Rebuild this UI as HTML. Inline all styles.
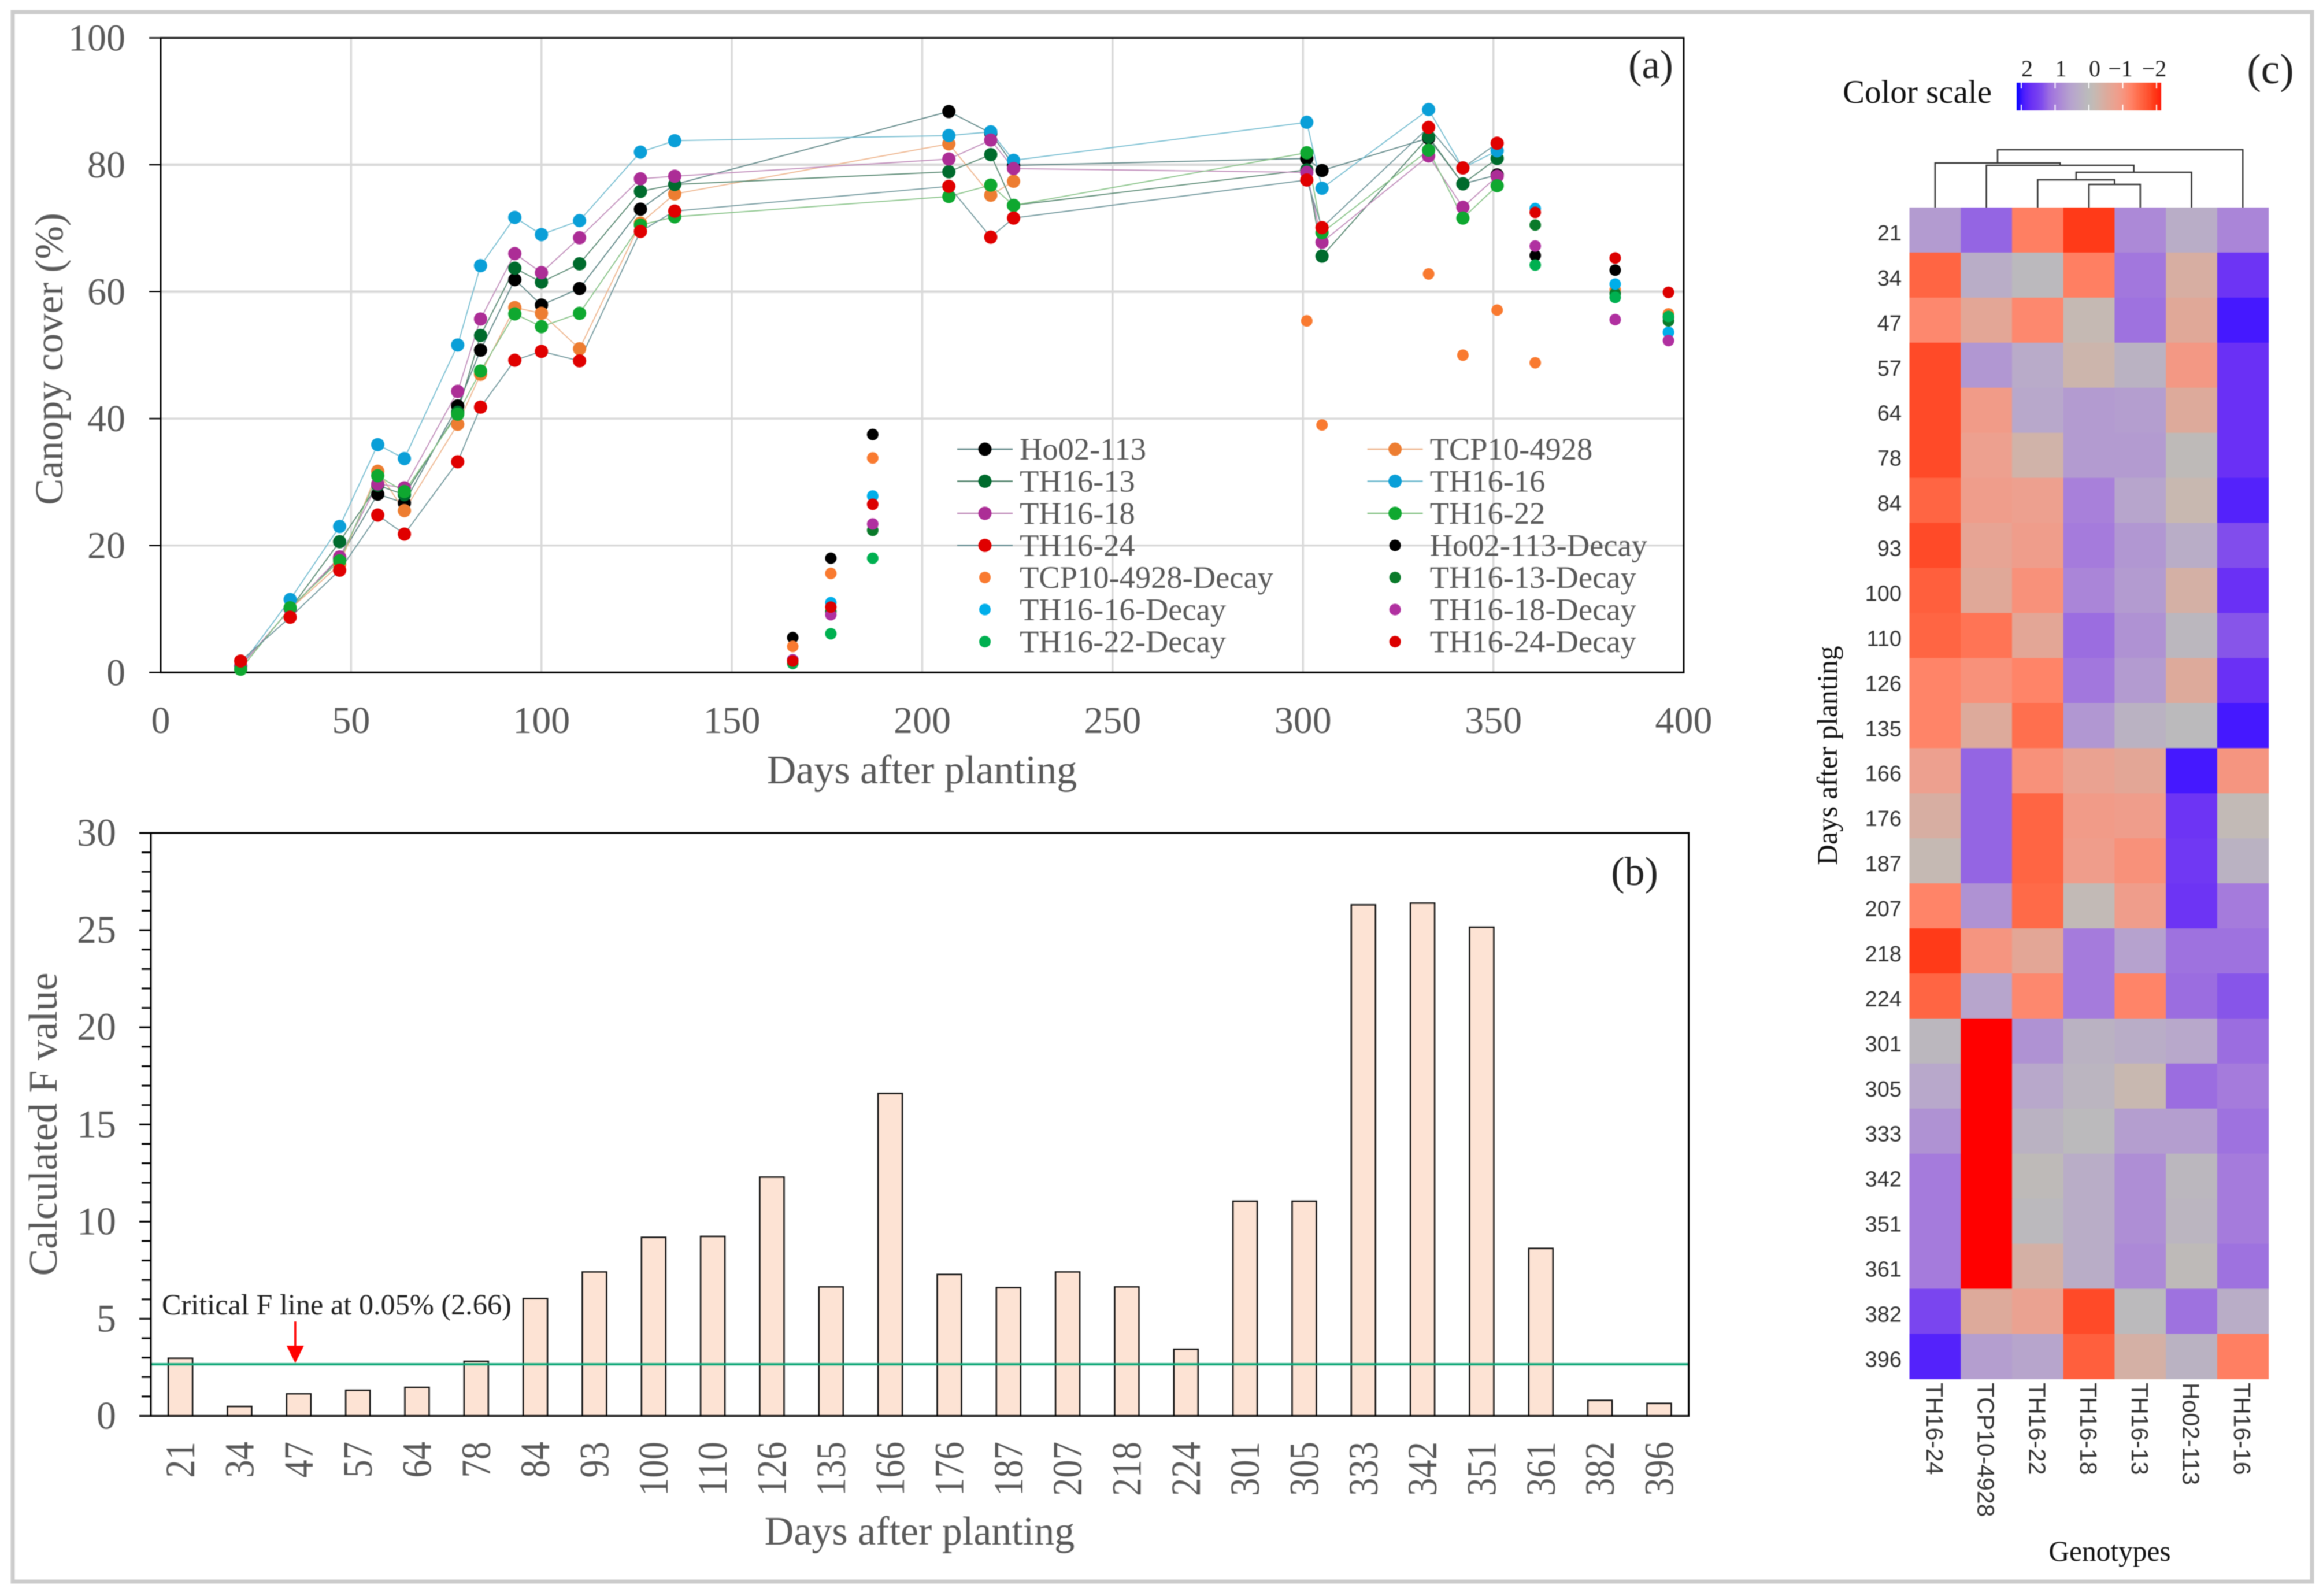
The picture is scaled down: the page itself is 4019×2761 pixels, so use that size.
<!DOCTYPE html>
<html lang="en">
<head>
<meta charset="utf-8">
<title>Canopy cover, F values and heatmap</title>
<style>
html,body{margin:0;padding:0;background:#fff;}
svg{display:block;font-family:"Liberation Serif",serif;filter:blur(0.7px);}
</style>
</head>
<body>
<svg id="fig" xmlns="http://www.w3.org/2000/svg" width="4019" height="2761" viewBox="0 0 4019 2761">
  <rect x="0" y="0" width="4019" height="2761" fill="#fff"/>
  <rect x="22" y="21" width="3978" height="2715" fill="none" stroke="#cccccc" stroke-width="7"/>
  <g id="panelA"></g>
  <g id="panelB"></g>
  <g id="panelC"></g>

  <text transform="translate(108,621) rotate(-90)" text-anchor="middle" font-size="69" fill="#595959">Canopy cover (%)</text>
  <text x="1595" y="1355" text-anchor="middle" font-size="70" fill="#595959">Days after planting</text>
  <text x="2856" y="135" text-anchor="middle" font-size="70" fill="#222">(a)</text>

  <text transform="translate(98,1945) rotate(-90)" text-anchor="middle" font-size="70" fill="#595959">Calculated F value</text>
  <text x="1591" y="2672" text-anchor="middle" font-size="70" fill="#595959">Days after planting</text>
  <text x="2828" y="1531" text-anchor="middle" font-size="70" fill="#222">(b)</text>
  <text x="280" y="2274" font-size="50.3" fill="#222">Critical F line at 0.05% (2.66)</text>

  <text transform="translate(3178,1307) rotate(-90)" text-anchor="middle" font-size="49.5" fill="#111">Days after planting</text>
  <text x="3650" y="2700" text-anchor="middle" font-size="49.4" fill="#111">Genotypes</text>
  <text x="3188" y="178" font-size="57" fill="#111">Color scale</text>
  <text x="3928" y="144" text-anchor="middle" font-size="73" fill="#222">(c)</text>
</svg>
<script>
// ---------- Panel (a) data ----------
const xTicksA = [0, 50, 100, 150, 200, 250, 300, 350, 400];
const yTicksA = [0, 20, 40, 60, 80, 100];
const mainDays = [21, 34, 47, 57, 64, 78, 84, 93, 100, 110, 126, 135, 207, 218, 224, 301, 305, 333, 342, 351];
const ho02 = [1, 10, 18, 28.1, 26.7, 42, 50.8, 61.9, 57.9, 60.5, 73, 76.9, 88.4, 85, 79.9, 81, 79.1, 84.2, 77, 78.4];
const tcp10 = [1, 10, 17, 31.7, 25.5, 39.1, 47, 57.5, 56.6, 51, 70.8, 75.4, 83.3, 75.2, 77.4];
const th13 = [1, 10, 20.6, 29.5, 28, 41, 53.1, 63.7, 61.5, 64.4, 75.8, 76.9, 78.9, 81.6, 73.6, 79.2, 65.6, 84.4, 77, 81];
const th16 = [1, 11.5, 23, 35.9, 33.7, 51.6, 64.1, 71.7, 69, 71.2, 82, 83.8, 84.6, 85.2, 80.7, 86.7, 76.3, 88.7, 79.5, 82.2];
const th18 = [1, 10, 18.2, 29.7, 29.1, 44.3, 55.7, 66, 63, 68.5, 77.8, 78.2, 80.9, 83.9, 79.4, 78.8, 67.8, 81.4, 73.3, 78.2];
const th22 = [0.5, 10.2, 17.6, 31, 28.5, 40.7, 47.5, 56.5, 54.5, 56.6, 70.5, 71.8, 75, 76.8, 73.6, 81.9, 69.3, 82.3, 71.6, 76.7];
const th24 = [1.8, 8.7, 16.1, 24.8, 21.8, 33.2, 41.8, 49.2, 50.6, 49.1, 69.5, 72.7, 76.6, 68.6, 71.6, 77.6, 70.1, 85.9, 79.5, 83.4];
const decayDays = [166, 176, 187, 361, 382, 396];
const tcpDecayDays = [166, 176, 187, 301, 305, 333, 342, 351, 361, 382, 396];
const ho02Decay = [5.5, 18, 37.5, 65.7, 63.4, 56];
const tcpDecay = [4.1, 15.6, 33.8, 55.4, 39, 62.8, 50, 57.1, 48.8, 60.3, 56.5];
const th13Decay = [2, 9.6, 22.4, 70.5, 59.7, 55.4];
const th16Decay = [2, 11, 27.8, 73.1, 61.2, 53.6];
const th18Decay = [2, 9.1, 23.4, 67.2, 55.6, 52.3];
const th22Decay = [1.4, 6.1, 18, 64.2, 59.1, 56.1];
const th24Decay = [1.8, 10.3, 26.5, 72.5, 65.3, 59.9];

// ---------- Panel (b) data ----------
const fDays = [21, 34, 47, 57, 64, 78, 84, 93, 100, 110, 126, 135, 166, 176, 187, 207, 218, 224, 301, 305, 333, 342, 351, 361, 382, 396];
const fValues = [2.97, 0.49, 1.14, 1.32, 1.47, 2.81, 6.04, 7.41, 9.19, 9.24, 12.29, 6.64, 16.6, 7.28, 6.6, 7.41, 6.64, 3.43, 11.05, 11.05, 26.3, 26.39, 25.15, 8.62, 0.8, 0.65];
const fTicks = [0, 5, 10, 15, 20, 25, 30];
const criticalF = 2.66;

// ---------- Panel (c) data ----------
const heatRows = [21, 34, 47, 57, 64, 78, 84, 93, 100, 110, 126, 135, 166, 176, 187, 207, 218, 224, 301, 305, 333, 342, 351, 361, 382, 396];
const heatCols = ["TH16-24", "TCP10-4928", "TH16-22", "TH16-18", "TH16-13", "Ho02-113", "TH16-16"];
const heatValues = [
  [0.6, 1.15, -1.2, -1.8, 0.8, 0.3, 0.85],
  [-1.45, 0.3, 0.05, -1.2, 1.0, -0.4, 1.55],
  [-1.1, -0.6, -1.1, -0.15, 1.05, -0.55, 1.85],
  [-1.7, 0.65, 0.35, -0.25, 0.2, -0.9, 1.6],
  [-1.7, -0.85, 0.4, 0.6, 0.55, -0.5, 1.6],
  [-1.7, -0.75, -0.3, 0.6, 0.6, -0.05, 1.6],
  [-1.45, -0.8, -0.75, 0.9, 0.45, -0.2, 1.75],
  [-1.7, -0.65, -0.8, 0.95, 0.65, 0.3, 1.3],
  [-1.5, -0.55, -1.0, 0.85, 0.6, -0.35, 1.6],
  [-1.45, -1.3, -0.6, 1.1, 0.7, 0.1, 1.25],
  [-1.15, -1.0, -1.15, 1.0, 0.6, -0.5, 1.6],
  [-1.15, -0.5, -1.35, 0.65, 0.2, 0.03, 1.85],
  [-0.75, 1.15, -1.0, -0.7, -0.6, 1.85, -0.95],
  [-0.4, 1.15, -1.45, -0.85, -0.8, 1.55, -0.1],
  [-0.15, 1.15, -1.45, -0.8, -1.0, 1.5, 0.2],
  [-1.15, 0.7, -1.4, -0.1, -0.8, 1.55, 0.95],
  [-1.8, -0.95, -0.6, 0.95, 0.5, 1.05, 1.05],
  [-1.45, 0.45, -1.1, 0.95, -1.15, 1.1, 1.25],
  [0.1, -2.2, 0.7, 0.2, 0.3, 0.4, 1.1],
  [0.4, -2.2, 0.4, 0.15, -0.2, 1.1, 0.95],
  [0.7, -2.2, 0.2, 0.03, 0.55, 0.55, 1.05],
  [0.95, -2.2, -0.05, 0.3, 0.75, 0.1, 0.95],
  [0.95, -2.2, 0.05, 0.3, 0.75, 0.15, 0.95],
  [0.95, -2.2, -0.35, 0.3, 0.8, -0.05, 1.05],
  [1.35, -0.5, -0.7, -1.7, 0.02, 1.05, 0.3],
  [1.75, 0.55, 0.45, -1.5, -0.35, 0.2, -1.2]
];
const paletteValues = [-2.2, -1.8, -1.7, -1.4, -1.15, -0.95, -0.75, -0.55, -0.35, -0.2, 0, 0.15, 0.4, 0.6, 0.9, 1.1, 1.35, 1.6, 1.85, 2];
const paletteColors = ["#ff0000", "#ff3a18", "#ff4a28", "#ff6a48", "#ff8468", "#f59580", "#eda08f", "#e0a898", "#d4b0a5", "#c8b8b0", "#bbbbbb", "#bbb5c0", "#b8a8cb", "#b39bd0", "#a880da", "#9b6de0", "#7a45ef", "#6a30f5", "#4518ff", "#0000ff"];
const scaleTicks = [2, 1, 0, -1, -2];
const scaleTickLabels = ["2", "1", "0", "\u22121", "\u22122"];
// Dendrogram merges: [left child, right child, merge height]; children >= 0 are columns, < 0 are earlier merges (-1 = first).
const dendroMerges = [[3, 4, 40], [2, -1, 48], [-2, 5, 61], [1, -3, 73], [0, -4, 77], [-5, 6, 100]];

const NS = "http://www.w3.org/2000/svg";
function mk(tag, attrs, parent) {
  const el = document.createElementNS(NS, tag);
  for (const k in attrs) el.setAttribute(k, attrs[k]);
  parent.appendChild(el);
  return el;
}
const GREY = "#595959";
const panelA = document.getElementById("panelA");
const panelB = document.getElementById("panelB");
const panelC = document.getElementById("panelC");

// ========== Panel (a) ==========
const aL = 278, aR = 2913, aT = 65.5, aB = 1163.3;
function xA(d) { return aL + (aR - aL) * d / 400; }
function yA(v) { return aB - (aB - aT) * v / 100; }

xTicksA.forEach(function (t) {
  if (t > 0 && t < 400) {
    const g = mk("line", { x1: xA(t), x2: xA(t), y1: aT, y2: aB, stroke: "#d9d9d9", "stroke-width": 3.5 }, panelA);
    
    
  }
  const l = mk("text", { x: xA(t), y: 1268, "text-anchor": "middle", "font-size": 66, fill: GREY }, panelA);
  
  
  l.textContent = t;
});
yTicksA.forEach(function (t) {
  if (t > 0 && t < 100) {
    const g = mk("line", { x1: aL, x2: aR, y1: yA(t), y2: yA(t), stroke: "#d9d9d9", "stroke-width": t >= 60 ? 4.5 : 3.5 }, panelA);
    
    
  }
  const tk = mk("line", { x1: 258, x2: aL, y1: yA(t), y2: yA(t), stroke: "#000", "stroke-width": 2.5 }, panelA);
  
  
  const l = mk("text", { x: 217, y: yA(t) + 22, "text-anchor": "end", "font-size": 66, fill: GREY }, panelA);
  
  
  l.textContent = t;
});
const aFrame = mk("rect", { x: aL, y: aT, width: aR - aL, height: aB - aT, fill: "none", stroke: "#000", "stroke-width": 3 }, panelA);



const mainSeries = [
  { name: "Ho02-113", vals: ho02, dot: "#000000", line: "#5d8585" },
  { name: "TCP10-4928", vals: tcp10, dot: "#ed7d31", line: "#eeb48c" },
  { name: "TH16-13", vals: th13, dot: "#006b2d", line: "#55866f" },
  { name: "TH16-16", vals: th16, dot: "#0a9fd8", line: "#74bcd0" },
  { name: "TH16-18", vals: th18, dot: "#ac2d96", line: "#c08cba" },
  { name: "TH16-22", vals: th22, dot: "#0fa830", line: "#86c286" },
  { name: "TH16-24", vals: th24, dot: "#e00000", line: "#6f969b" }
];
const decaySeries = [
  { name: "Ho02-113-Decay", days: decayDays, vals: ho02Decay, dot: "#000000" },
  { name: "TCP10-4928-Decay", days: tcpDecayDays, vals: tcpDecay, dot: "#f97a30" },
  { name: "TH16-13-Decay", days: decayDays, vals: th13Decay, dot: "#0a7a2a" },
  { name: "TH16-16-Decay", days: decayDays, vals: th16Decay, dot: "#00aeea" },
  { name: "TH16-18-Decay", days: decayDays, vals: th18Decay, dot: "#b030a0" },
  { name: "TH16-22-Decay", days: decayDays, vals: th22Decay, dot: "#00b050" },
  { name: "TH16-24-Decay", days: decayDays, vals: th24Decay, dot: "#dc0000" }
];

mainSeries.forEach(function (s) {
  const pts = s.vals.map(function (v, i) { return xA(mainDays[i]) + "," + yA(v); }).join(" ");
  const pl = mk("polyline", { points: pts, fill: "none", stroke: s.line, "stroke-width": 1.8 }, panelA);
  
  
});
mainSeries.forEach(function (s) {
  s.vals.forEach(function (v, i) {
    const c = mk("circle", { cx: xA(mainDays[i]), cy: yA(v), r: 11.5, fill: s.dot }, panelA);
    
    
  });
});
decaySeries.forEach(function (s) {
  s.vals.forEach(function (v, i) {
    const c = mk("circle", { cx: xA(s.days[i]), cy: yA(v), r: 10, fill: s.dot }, panelA);
    
    
  });
});

// Legend
const legendEntries = [
  [mainSeries[0], true], [mainSeries[1], true],
  [mainSeries[2], true], [mainSeries[3], true],
  [mainSeries[4], true], [mainSeries[5], true],
  [mainSeries[6], true], [decaySeries[0], false],
  [decaySeries[1], false], [decaySeries[2], false],
  [decaySeries[3], false], [decaySeries[4], false],
  [decaySeries[5], false], [decaySeries[6], false]
];
legendEntries.forEach(function (entry, i) {
  const s = entry[0], isLine = entry[1];
  const col = i % 2, row = Math.floor(i / 2);
  const mx = col === 0 ? 1704 : 2413.6;
  const ty = 777 + row * 55.5;
  if (isLine) {
    const ln = mk("line", { x1: mx - 48, x2: mx + 48, y1: ty, y2: ty, stroke: s.line, "stroke-width": 2.5 }, panelA);
    
    
  }
  const c = mk("circle", { cx: mx, cy: ty, r: isLine ? 11.5 : 10, fill: s.dot }, panelA);
  
  
  const t = mk("text", { x: mx + 60, y: ty + 18, "font-size": 54.5, fill: GREY }, panelA);
  
  
  t.textContent = s.name;
});

// ========== Panel (b) ==========
const bL = 261, bR = 2921.6, bT = 1441, bB = 2449.5;
const bBand = (bR - bL) / fDays.length;
function xB(i) { return bL + bBand * (i + 0.5); }
function yB(v) { return bB - (bB - bT) * v / 30; }

for (let m = 0; m <= 30; m++) {
  const tk = mk("line", { x1: m % 5 === 0 ? 241 : 245, x2: bL, y1: yB(m), y2: yB(m), stroke: "#000", "stroke-width": 3 }, panelB);
  
  
}
fTicks.forEach(function (t) {
  const l = mk("text", { x: 201, y: yB(t) + 22, "text-anchor": "end", "font-size": 68, fill: GREY }, panelB);
  
  
  l.textContent = t;
});
fValues.forEach(function (v, i) {
  const r = mk("rect", { x: xB(i) - 21, y: yB(v), width: 42, height: bB - yB(v), fill: "#fde3d4", stroke: "#111", "stroke-width": 2.5 }, panelB);
  
  
  const txt = String(fDays[i]);
  const l = mk("text", { transform: "rotate(-90 " + (xB(i) + 24) + " 2494)", x: xB(i) + 24, y: 2494, "text-anchor": "end", "font-size": 72, fill: GREY, textLength: txt.length * 31.3, lengthAdjust: "spacingAndGlyphs" }, panelB);
  
  
  l.textContent = txt;
});
const critLine = mk("line", { x1: bL, x2: bR, y1: yB(criticalF), y2: yB(criticalF), stroke: "#12a97a", "stroke-width": 4 }, panelB);


const bFrame = mk("rect", { x: bL, y: bT, width: bR - bL, height: bB - bT, fill: "none", stroke: "#000", "stroke-width": 3 }, panelB);


const topTick = mk("line", { x1: 241, x2: bL, y1: bT, y2: bT, stroke: "#000", "stroke-width": 3 }, panelB);


const arrowX = xB(2) - 6;
const arrowTipY = yB(criticalF) - 2;
const arrowShaft = mk("line", { x1: arrowX, x2: arrowX, y1: arrowTipY - 72, y2: arrowTipY - 25, stroke: "#ff0000", "stroke-width": 3.5 }, panelB);


const arrowHead = mk("polygon", { points: (arrowX - 15) + "," + (arrowTipY - 30) + " " + (arrowX + 15) + "," + (arrowTipY - 30) + " " + arrowX + "," + arrowTipY, fill: "#ff0000" }, panelB);



// ========== Panel (c) ==========
const hL = 3303.5, hR = 3924.6, hT = 359, hB = 2385.4;
const hCW = (hR - hL) / heatCols.length, hRH = (hB - hT) / heatRows.length;
function xH(i) { return hL + hCW * i; }
function yH(i) { return hT + hRH * i; }
function hexRgb(h) { return [parseInt(h.substr(1, 2), 16), parseInt(h.substr(3, 2), 16), parseInt(h.substr(5, 2), 16)]; }
function colorOf(v) {
  if (v <= paletteValues[0]) return paletteColors[0];
  for (let i = 1; i < paletteValues.length; i++) {
    if (v <= paletteValues[i]) {
      const f = (v - paletteValues[i - 1]) / (paletteValues[i] - paletteValues[i - 1]);
      const a = hexRgb(paletteColors[i - 1]), b = hexRgb(paletteColors[i]);
      return "rgb(" + a.map(function (c, k) { return Math.round(c + (b[k] - c) * f); }).join(",") + ")";
    }
  }
  return paletteColors[paletteColors.length - 1];
}
heatValues.forEach(function (row, r) {
  row.forEach(function (v, c) {
    const cell = mk("rect", { x: xH(c), y: yH(r), width: hCW + 0.5, height: hRH + 0.5, fill: colorOf(v) }, panelC);
    
    
  });
  const l = mk("text", { x: 3290, y: yH(r) + hRH / 2 + 4 + 14, "text-anchor": "end", "font-size": 38, fill: "#333", style: "font-family:'Liberation Sans',sans-serif" }, panelC);
  
  
  l.textContent = heatRows[r];
});
heatCols.forEach(function (name, c) {
  const cx = xH(c) + hCW / 2 - 15;
  const l = mk("text", { transform: "rotate(90 " + cx + " 2392)", x: cx, y: 2392, "font-size": 41, fill: "#333", style: "font-family:'Liberation Sans',sans-serif" }, panelC);
  
  
  l.textContent = name;
});

// Dendrogram
const dendroNodes = [];
function nodeOf(id) {
  if (id >= 0) return { x: xH(id) + hCW / 2, y: hT };
  return dendroNodes[-id - 1];
}
dendroMerges.forEach(function (m) {
  const a = nodeOf(m[0]), b = nodeOf(m[1]);
  const yy = hT - m[2];
  const p = mk("path", { d: "M" + a.x + " " + a.y + "V" + yy + "H" + b.x + "V" + b.y, fill: "none", stroke: "#333", "stroke-width": 2.5 }, panelC);
  
  
  dendroNodes.push({ x: (a.x + b.x) / 2, y: yy });
});

// Color scale
const sL = 3489, sR = 3739, sT = 143, sB = 191;
const defs = mk("defs", {}, panelC);
const grad = mk("linearGradient", { id: "scaleGrad", x1: 0, x2: 1, y1: 0, y2: 0 }, defs);
for (let i = 0; i <= 40; i++) {
  mk("stop", { offset: (i / 40), "stop-color": colorOf(2 - 4 * i / 40) }, grad);
}
const bar = mk("rect", { x: sL, y: sT, width: sR - sL, height: sB - sT, fill: "url(#scaleGrad)" }, panelC);


function xScale(v) { return sL + 8 + (sR - sL - 16) * (2 - v) / 4; }
scaleTicks.forEach(function (t, i) {
  const tk1 = mk("line", { x1: xScale(t), x2: xScale(t), y1: sT, y2: sT + 10, stroke: "#fff", "stroke-width": 2 }, panelC);
  
  
  const tk2 = mk("line", { x1: xScale(t), x2: xScale(t), y1: sB - 10, y2: sB, stroke: "#fff", "stroke-width": 2 }, panelC);
  
  
  const l = mk("text", { x: xScale(t) + (t < 0 ? -4 : 10), y: 132, "text-anchor": "middle", "font-size": 40, fill: "#222" }, panelC);
  
  
  l.textContent = scaleTickLabels[i];
});
</script>
</body>
</html>
